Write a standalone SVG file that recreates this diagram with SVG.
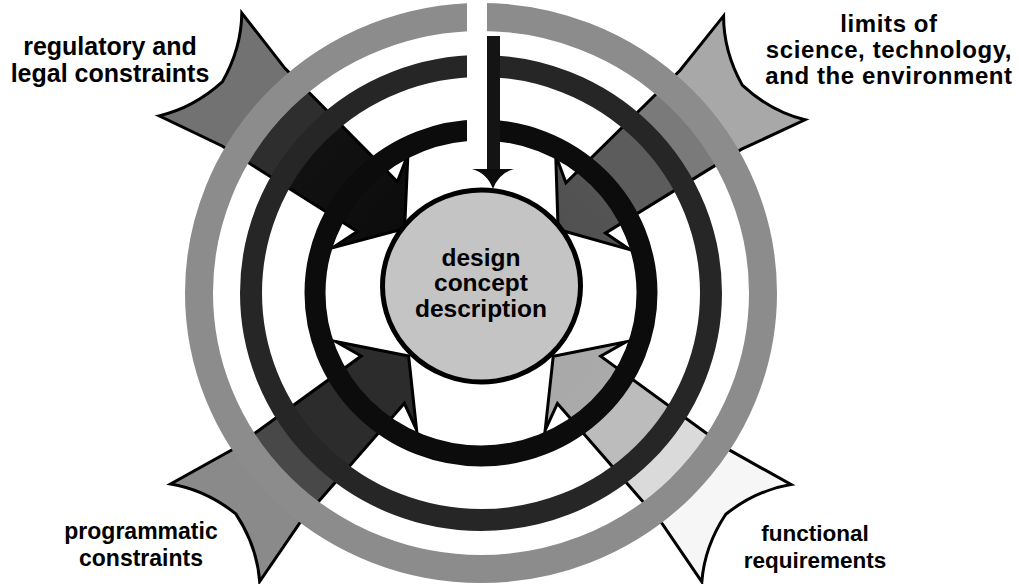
<svg xmlns="http://www.w3.org/2000/svg" width="1019" height="584" viewBox="0 0 1019 584">
<style>
.lbl{font-family:"Liberation Sans",Arial,sans-serif;font-weight:bold;fill:#000;text-anchor:middle}
.arw{stroke:#000;stroke-width:3;stroke-linejoin:miter;stroke-miterlimit:10}
.ring{fill:none}
</style>
<defs>
<path id="arrowShape" d="M98 0 L142 60 L133 32 L292 50 L360 66 Q338 38 332 0 Q338 -38 360 -66 L292 -50 L133 -32 L142 -60 Z"/>
<linearGradient id="gUL" gradientUnits="userSpaceOnUse" x1="98" y1="0" x2="360" y2="0">
<stop offset="0" stop-color="#0c0c0c"/><stop offset="0.5" stop-color="#121212"/><stop offset="0.5" stop-color="#2e2e2e"/><stop offset="0.7" stop-color="#2e2e2e"/><stop offset="0.7" stop-color="#727272"/><stop offset="1" stop-color="#727272"/>
</linearGradient>
<linearGradient id="gUR" gradientUnits="userSpaceOnUse" x1="98" y1="0" x2="360" y2="0">
<stop offset="0" stop-color="#505050"/><stop offset="0.26" stop-color="#555555"/><stop offset="0.26" stop-color="#5c5c5c"/><stop offset="0.5" stop-color="#5c5c5c"/><stop offset="0.5" stop-color="#7a7a7a"/><stop offset="0.7" stop-color="#7a7a7a"/><stop offset="0.7" stop-color="#a8a8a8"/><stop offset="1" stop-color="#a8a8a8"/>
</linearGradient>
<linearGradient id="gLL" gradientUnits="userSpaceOnUse" x1="98" y1="0" x2="360" y2="0">
<stop offset="0" stop-color="#2c2c2c"/><stop offset="0.5" stop-color="#2c2c2c"/><stop offset="0.5" stop-color="#484848"/><stop offset="0.7" stop-color="#484848"/><stop offset="0.7" stop-color="#8a8a8a"/><stop offset="1" stop-color="#8a8a8a"/>
</linearGradient>
<linearGradient id="gLR" gradientUnits="userSpaceOnUse" x1="98" y1="0" x2="360" y2="0">
<stop offset="0" stop-color="#a8a8a8"/><stop offset="0.26" stop-color="#ababab"/><stop offset="0.26" stop-color="#bcbcbc"/><stop offset="0.5" stop-color="#bcbcbc"/><stop offset="0.5" stop-color="#dadada"/><stop offset="0.7" stop-color="#dadada"/><stop offset="0.7" stop-color="#f6f6f6"/><stop offset="1" stop-color="#f6f6f6"/>
</linearGradient>
<clipPath id="gap">
<path clip-rule="evenodd" d="M0 0H1019V584H0Z M467 0H487V172H467Z"/>
</clipPath>
</defs>
<rect width="1019" height="584" fill="#fff"/>

<g id="connectors">
<g id="arrow-regulatory" transform="translate(481 290) rotate(218.8)">
<use href="#arrowShape" class="arw" fill="url(#gUL)"/>
</g>
<g id="arrow-limits" transform="translate(481 290) rotate(-38.1)">
<use href="#arrowShape" class="arw" fill="url(#gUR)"/>
</g>
<g id="arrow-programmatic" transform="translate(481 290) rotate(137.6)">
<use href="#arrowShape" class="arw" fill="url(#gLL)"/>
</g>
<g id="arrow-functional" transform="translate(481 290) rotate(42.5)">
<use href="#arrowShape" class="arw" fill="url(#gLR)"/>
</g>
</g>

<g id="rings" clip-path="url(#gap)">
<ellipse class="ring" cx="481" cy="293" rx="282" ry="276" stroke="#8c8c8c" stroke-width="28"/>
<ellipse class="ring" cx="481" cy="293" rx="230" ry="227" stroke="#262626" stroke-width="22"/>
<ellipse class="ring" cx="481" cy="293" rx="166" ry="163" stroke="#0c0c0c" stroke-width="21"/>
</g>

<g id="top-arrow">
<rect x="487" y="36" width="13" height="136" fill="#141414"/>
<path d="M472 169 Q487 173 493 189 Q499 173 514 169 Z" fill="#0c0c0c"/>
</g>

<g id="node-concept">
<ellipse cx="481.5" cy="286" rx="99" ry="96" fill="#c4c4c4" stroke="#000" stroke-width="5"/>
<text class="lbl" font-size="24.5" x="481" y="266">design</text>
<text class="lbl" font-size="24.5" x="481" y="291">concept</text>
<text class="lbl" font-size="24.5" x="481" y="317">description</text>
</g>

<g id="label-regulatory">
<text class="lbl" font-size="25" x="110" y="55">regulatory and</text>
<text class="lbl" font-size="25" x="110" y="82">legal constraints</text>
</g>
<g id="label-limits">
<text class="lbl" font-size="24" letter-spacing="0.6" x="889" y="32">limits of</text>
<text class="lbl" font-size="24" letter-spacing="0.6" x="889" y="58">science, technology,</text>
<text class="lbl" font-size="24" letter-spacing="0.6" x="889" y="84">and the environment</text>
</g>
<g id="label-programmatic">
<text class="lbl" font-size="23" x="141" y="539">programmatic</text>
<text class="lbl" font-size="23" x="141" y="566">constraints</text>
</g>
<g id="label-functional">
<text class="lbl" font-size="22.5" x="815" y="541">functional</text>
<text class="lbl" font-size="22.5" x="815" y="568">requirements</text>
</g>
</svg>
